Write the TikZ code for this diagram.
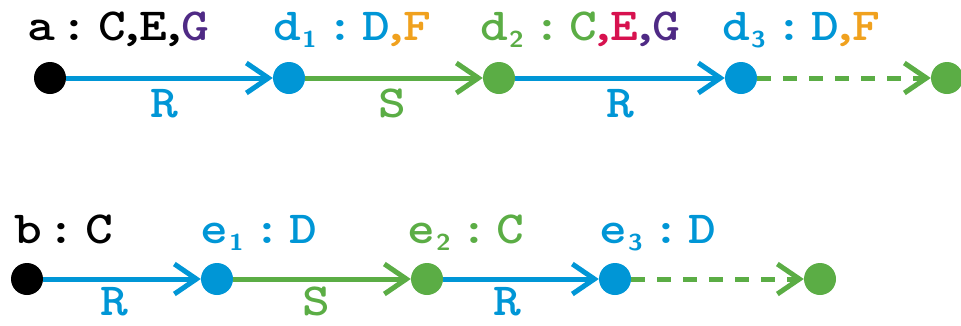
\documentclass[tikz,border=0pt]{standalone}
\usepackage{fontspec}
\usetikzlibrary{arrows.meta}
\definecolor{cblue}{RGB}{0,150,214}
\definecolor{cgreen}{RGB}{91,173,69}
\definecolor{cpurple}{RGB}{79,42,133}
\definecolor{corange}{RGB}{240,161,30}
\definecolor{cred}{RGB}{215,18,79}
\newcommand{\lblfont}{\fontsize{46}{48}\selectfont\ttfamily\bfseries\addfontfeatures{FakeBold=1.2}}
\newcommand{\wide}[1]{\scalebox{1.15}[1]{#1}}
\newcommand{\subn}[1]{\kern1pt\raisebox{-7pt}{\fontsize{23}{24}\selectfont\sffamily #1}}
\newcommand{\csA}{\ \kern-19pt:\ \kern-16pt}
\newcommand{\csB}{\ \kern-16pt:\ \kern-17pt}
\newcommand{\cmm}{\kern-6pt,\kern-6pt}
\begin{document}
\begin{tikzpicture}[x=1pt,y=-1pt,
  dot/.style={circle,fill,inner sep=0pt,minimum size=32pt},
  lbl/.style={anchor=base west,font=\lblfont,inner sep=0pt},
  elbl/.style={anchor=base,font=\lblfont,inner sep=0pt},
  arr/.style={line width=5pt,-{Straight Barb[length=22pt,width=30pt,line width=5pt]}},
  dsh/.style={arr,dash pattern=on 14pt off 12pt}]
\useasboundingbox (0,0) rectangle (961,325);
% top row
\node[dot,black] (a) at (50,78) {};
\node[dot,cblue] (d1) at (289,78) {};
\node[dot,cgreen] (d2) at (499,78) {};
\node[dot,cblue] (d3) at (741,78) {};
\node[dot,cgreen] (d4) at (947,78) {};
\draw[arr,cblue] (a) -- (d1);
\draw[arr,cgreen] (d1) -- (d2);
\draw[arr,cblue] (d2) -- (d3);
\draw[dsh,cgreen] (d3) -- (d4);
\node[lbl] (la) at (27,40) {\wide{a\csA C\cmm E\cmm\textcolor{cpurple}{G}}};
\node[lbl] (ld1) at (273,40) {\wide{\textcolor{cblue}{d\subn{1}\csB D}\textcolor{corange}{\cmm F}}};
\node[lbl] (ld2) at (480,40) {\wide{\textcolor{cgreen}{d\subn{2}\csB C}\textcolor{cred}{\cmm E}\textcolor{cpurple}{\cmm G}}};
\node[lbl] (ld3) at (722,40) {\wide{\textcolor{cblue}{d\subn{3}\csB D}\textcolor{corange}{\cmm F}}};
\node[elbl,cblue] (r1) at (164,117) {\wide{R}};
\node[elbl,cgreen] (s1) at (392,117) {\wide{S}};
\node[elbl,cblue] (r2) at (620,117) {\wide{R}};
% bottom row
\node[dot,black] (b) at (27,279) {};
\node[dot,cblue] (e1) at (217,279) {};
\node[dot,cgreen] (e2) at (427,279) {};
\node[dot,cblue] (e3) at (615,279) {};
\node[dot,cgreen] (e4) at (820,279) {};
\draw[arr,cblue] (b) -- (e1);
\draw[arr,cgreen] (e1) -- (e2);
\draw[arr,cblue] (e2) -- (e3);
\draw[dsh,cgreen] (e3) -- (e4);
\node[lbl] (lb) at (14,243) {\wide{b\csA C}};
\node[lbl,cblue] (le1) at (200,243) {\wide{e\subn{1}\csB D}};
\node[lbl,cgreen] (le2) at (407,243) {\wide{e\subn{2}\csB C}};
\node[lbl,cblue] (le3) at (599,243) {\wide{e\subn{3}\csB D}};
\node[elbl,cblue] (r3) at (114,315) {\wide{R}};
\node[elbl,cgreen] (s2) at (316,315) {\wide{S}};
\node[elbl,cblue] (r4) at (507,315) {\wide{R}};
\end{tikzpicture}
\end{document}
